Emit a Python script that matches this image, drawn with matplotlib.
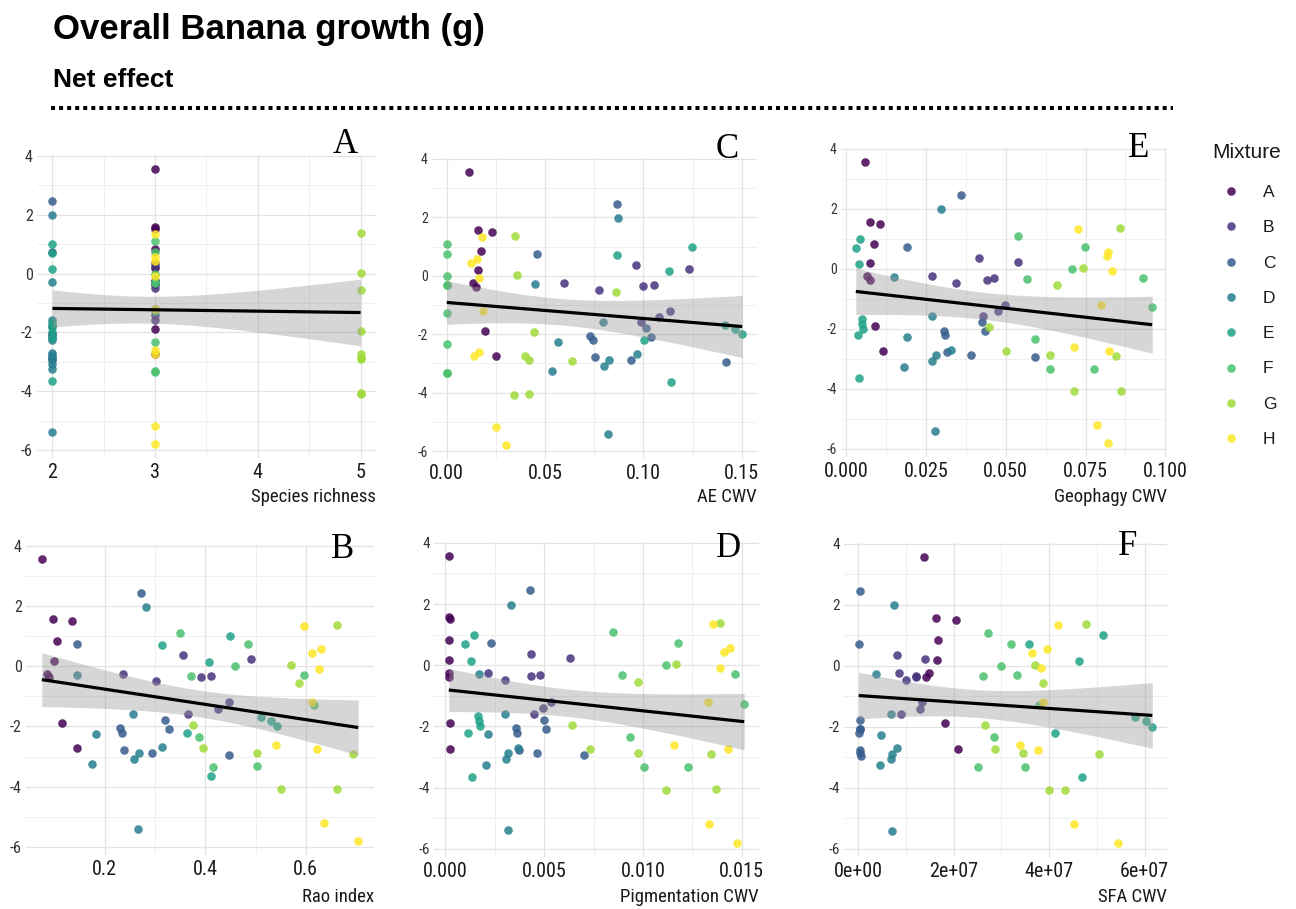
import numpy as np
import matplotlib
matplotlib.use("Agg")
import matplotlib.pyplot as plt
from matplotlib.ticker import FixedLocator, FixedFormatter

plt.rcParams['axes.unicode_minus'] = False

# ---------------- data ----------------
mixtures = ["A", "B", "C", "D", "E", "F", "G", "H"]
mixture_colors = ["#440154", "#46337E", "#365C8D", "#277F8E",
                  "#1FA187", "#4AC16D", "#9FDA3A", "#FDE725"]
richness_by_mixture = {"A": 3, "B": 3, "C": 2, "D": 2, "E": 2, "F": 3, "G": 5, "H": 3}

mixture = (["A"] * 9 + ["B"] * 9 + ["C"] * 9 + ["D"] * 9 + ["E"] * 8
           + ["F"] * 9 + ["G"] * 9 + ["H"] * 9)

growth = [3.56, 1.57, 1.51, 0.84, 0.18, -0.24, -0.37, -1.89, -2.73,          # A
          0.36, -0.25, -0.48, -0.36, -0.32, 0.24, -1.58, -1.41, -1.19,       # B
          2.45, 0.73, -1.78, -2.06, -2.20, -2.08, -2.77, -2.87, -2.94,       # C
          1.98, -0.28, -1.58, -2.26, -3.07, -2.88, -2.69, -3.26, -5.40,      # D
          0.70, 1.00, 0.15, -1.67, -1.82, -1.99, -2.20, -3.65,               # E
          1.09, 0.73, 0.00, -0.33, -0.30, -1.28, -2.34, -3.33, -3.32,        # F
          1.37, 0.03, -0.55, -1.94, -2.73, -2.87, -2.90, -4.08, -4.06,       # G
          1.34, 0.43, 0.56, -0.08, -1.20, -2.60, -2.75, -5.19, -5.80]        # H

rao_index = [0.075, 0.098, 0.136, 0.106, 0.099, 0.085, 0.090, 0.115, 0.144,
             0.355, 0.236, 0.302, 0.391, 0.411, 0.490, 0.366, 0.425, 0.447,
             0.272, 0.145, 0.319, 0.231, 0.234, 0.327, 0.238, 0.295, 0.448,
             0.283, 0.145, 0.257, 0.182, 0.258, 0.268, 0.313, 0.174, 0.266,
             0.313, 0.450, 0.408, 0.510, 0.530, 0.543, 0.363, 0.411,
             0.350, 0.484, 0.460, 0.371, 0.597, 0.616, 0.387, 0.416, 0.502,
             0.662, 0.570, 0.587, 0.375, 0.396, 0.503, 0.693, 0.550, 0.662,
             0.597, 0.612, 0.630, 0.627, 0.612, 0.540, 0.623, 0.637, 0.704]

ae_cwv = [0.0115, 0.0160, 0.0232, 0.0175, 0.0161, 0.0132, 0.0149, 0.0192, 0.0249,
          0.0961, 0.0597, 0.0773, 0.0997, 0.1056, 0.1232, 0.0985, 0.1080, 0.1134,
          0.0863, 0.0459, 0.1015, 0.0730, 0.0742, 0.1039, 0.0756, 0.0936, 0.1422,
          0.0873, 0.0446, 0.0793, 0.0563, 0.0797, 0.0825, 0.0966, 0.0536, 0.0822,
          0.0864, 0.1246, 0.1129, 0.1412, 0.1464, 0.1502, 0.1003, 0.1139,
          0.0, 0.0, 0.0, 0.0, 0.0, 0.0, 0.0, 0.0, 0.0,
          0.0347, 0.0358, 0.0861, 0.0441, 0.0400, 0.0417, 0.0639, 0.0341, 0.0420,
          0.0178, 0.0125, 0.0154, 0.0166, 0.0183, 0.0166, 0.0137, 0.0249, 0.0303]

geophagy_cwv = [0.0058, 0.0073, 0.0107, 0.0086, 0.0074, 0.0066, 0.0074, 0.0089, 0.0116,
                0.0417, 0.0270, 0.0344, 0.0440, 0.0464, 0.0537, 0.0428, 0.0476, 0.0497,
                0.0360, 0.0192, 0.0425, 0.0305, 0.0310, 0.0434, 0.0315, 0.0391, 0.0593,
                0.0296, 0.0151, 0.0269, 0.0190, 0.0270, 0.0280, 0.0327, 0.0182, 0.0278,
                0.0030, 0.0044, 0.0040, 0.0049, 0.0050, 0.0052, 0.0036, 0.0040,
                0.0537, 0.0748, 0.0709, 0.0568, 0.0930, 0.0959, 0.0593, 0.0640, 0.0776,
                0.0858, 0.0743, 0.0661, 0.0449, 0.0500, 0.0640, 0.0847, 0.0714, 0.0862,
                0.0727, 0.0816, 0.0819, 0.0832, 0.0799, 0.0714, 0.0824, 0.0785, 0.0819]

pigmentation_cwv = [0.00020, 0.00020, 0.00025, 0.00020, 0.00020, 0.00018, 0.00018, 0.00022, 0.00025,
                    0.00436, 0.00214, 0.00304, 0.00436, 0.00479, 0.00629, 0.00447, 0.00494, 0.00535,
                    0.00427, 0.00229, 0.00500, 0.00360, 0.00365, 0.00511, 0.00373, 0.00462, 0.00700,
                    0.00335, 0.00173, 0.00304, 0.00215, 0.00306, 0.00318, 0.00368, 0.00207, 0.00315,
                    0.00100, 0.00146, 0.00131, 0.00165, 0.00172, 0.00175, 0.00116, 0.00133,
                    0.00846, 0.01179, 0.01115, 0.00896, 0.01463, 0.01512, 0.00935, 0.01007, 0.01226,
                    0.01391, 0.01165, 0.00977, 0.00639, 0.00732, 0.00974, 0.01342, 0.01117, 0.01371,
                    0.01352, 0.01409, 0.01438, 0.01389, 0.01330, 0.01157, 0.01430, 0.01334, 0.01477]

sfa_cwv = [1.38e7, 1.63e7, 2.04e7, 1.68e7, 1.64e7, 1.49e7, 1.43e7, 1.82e7, 2.09e7,
           0.82e7, 0.86e7, 1.00e7, 1.21e7, 1.22e7, 1.40e7, 0.90e7, 1.29e7, 1.33e7,
           0.03e7, 0.01e7, 0.03e7, 0.03e7, 0.02e7, 0.035e7, 0.03e7, 0.04e7, 0.06e7,
           0.75e7, 0.38e7, 0.68e7, 0.47e7, 0.68e7, 0.70e7, 0.82e7, 0.45e7, 0.70e7,
           3.57e7, 5.12e7, 4.63e7, 5.79e7, 6.02e7, 6.16e7, 4.12e7, 4.68e7,
           2.71e7, 3.21e7, 2.99e7, 2.62e7, 3.33e7, 3.78e7, 2.85e7, 2.50e7, 3.50e7,
           4.77e7, 3.71e7, 3.88e7, 2.65e7, 2.86e7, 3.45e7, 5.04e7, 3.99e7, 4.34e7,
           4.19e7, 3.64e7, 3.96e7, 3.83e7, 3.88e7, 3.38e7, 3.77e7, 4.52e7, 5.44e7]

species_richness = [richness_by_mixture[m] for m in mixture]

y_ticks = [-6, -4, -2, 0, 2, 4]
y_tick_labels = ["-6", "-4", "-2", "0", "2", "4"]
y_minor = [-5, -3, -1, 1, 3]

richness_ticks = [2, 3, 4, 5]
richness_labels = ["2", "3", "4", "5"]
ae_ticks = [0.0, 0.05, 0.10, 0.15]
ae_labels = ["0.00", "0.05", "0.10", "0.15"]
geo_ticks = [0.0, 0.025, 0.05, 0.075, 0.10]
geo_labels = ["0.000", "0.025", "0.050", "0.075", "0.100"]
rao_ticks = [0.2, 0.4, 0.6]
rao_labels = ["0.2", "0.4", "0.6"]
pig_ticks = [0.0, 0.005, 0.010, 0.015]
pig_labels = ["0.000", "0.005", "0.010", "0.015"]
sfa_ticks = [0.0, 2e7, 4e7, 6e7]
sfa_labels = ["0e+00", "2e+07", "4e+07", "6e+07"]

title = "Overall Banana growth (g)"
subtitle = "Net effect"
legend_title = "Mixture"

# ---------------- figure ----------------
W, H = 1296, 909
fig = plt.figure(figsize=(W / 100, H / 100), dpi=100)
fig.patch.set_facecolor("white")

NARROW = ["Roboto Condensed", "Pragati Narrow", "IBM Plex Sans Condensed",
          "Liberation Sans", "DejaVu Sans"]
SANS = ["Liberation Sans", "DejaVu Sans"]
SERIF = ["Liberation Serif", "DejaVu Serif"]


def px_axes(l, r, t, b):
    return fig.add_axes([l / W, 1 - b / H, (r - l) / W, (b - t) / H])


def fx(x):
    return x / W


def fy(y):
    return 1 - y / H


T_Q = 1.9949  # 97.5% t quantile, df = n - 2


def minor_between(ticks):
    return [(a + b) / 2 for a, b in zip(ticks[:-1], ticks[1:])]


panels = [
    # x data, ticks, labels, xlabel, box(l,r,t,b), letter, letter pos, ytick size, xlabel y
    (species_richness, richness_ticks, richness_labels, "Species richness",
     (37, 376, 155, 458), "A", (345, 153), 11.5, 497),
    (ae_cwv, ae_ticks, ae_labels, "AE CWV",
     (432, 757, 158, 459), "C", (727, 158), 10, 497),
    (geophagy_cwv, geo_ticks, geo_labels, "Geophagy CWV",
     (841, 1167, 148, 457), "E", (1139, 157), 10, 497),
    (rao_index, rao_ticks, rao_labels, "Rao index",
     (26, 374, 545, 855), "B", (343, 558), 11.5, 897),
    (pigmentation_cwv, pig_ticks, pig_labels, "Pigmentation CWV",
     (434, 759, 542, 857), "D", (728, 557), 11, 897),
    (sfa_cwv, sfa_ticks, sfa_labels, "SFA CWV",
     (844, 1167, 543, 857), "F", (1128, 555), 11, 897),
]

y_all = np.asarray(growth, dtype=float)
mix_arr = np.asarray(mixture)

for xdata, xt, xl, xlabel, box, letter, lpos, ysize, xlab_y in panels:
    l, r, t, b = box
    ax = px_axes(l, r, t, b)
    x = np.asarray(xdata, dtype=float)
    n = len(x)

    # linear model with 95% confidence band
    slope, intercept = np.polyfit(x, y_all, 1)
    resid = y_all - (slope * x + intercept)
    s = np.sqrt(np.sum(resid ** 2) / (n - 2))
    xm = x.mean()
    sxx = np.sum((x - xm) ** 2)
    xs = np.linspace(x.min(), x.max(), 120)
    fit = slope * xs + intercept
    se = s * np.sqrt(1.0 / n + (xs - xm) ** 2 / sxx)
    lo, hi = fit - T_Q * se, fit + T_Q * se

    for m, c in zip(mixtures, mixture_colors):
        sel = mix_arr == m
        ax.scatter(x[sel], y_all[sel], s=38, color=c, alpha=0.85,
                   linewidths=0, zorder=2)
    ax.fill_between(xs, lo, hi, color="#999999", alpha=0.4, linewidth=0, zorder=3)
    ax.plot(xs, fit, color="black", lw=2.3, zorder=4, solid_capstyle="butt")

    # ggplot-like limits (5% expansion)
    xmin, xmax = x.min(), x.max()
    dx = (xmax - xmin) * 0.05
    ax.set_xlim(xmin - dx, xmax + dx)
    ymin = min(y_all.min(), lo.min())
    ymax = max(y_all.max(), hi.max())
    dy = (ymax - ymin) * 0.05
    ax.set_ylim(ymin - dy, ymax + dy)

    ax.xaxis.set_major_locator(FixedLocator(xt))
    ax.xaxis.set_major_formatter(FixedFormatter(xl))
    ax.xaxis.set_minor_locator(FixedLocator(minor_between(xt)))
    ax.yaxis.set_major_locator(FixedLocator(y_ticks))
    ax.yaxis.set_major_formatter(FixedFormatter(y_tick_labels))
    ax.yaxis.set_minor_locator(FixedLocator(y_minor))

    ax.grid(True, which="major", color="#E3E3E3", lw=0.9)
    ax.grid(True, which="minor", color="#EDEDED", lw=0.6)
    ax.set_axisbelow(True)
    for sp in ax.spines.values():
        sp.set_visible(False)
    ax.tick_params(which="both", length=0)
    ax.tick_params(axis="x", pad=3.5, labelsize=14.5, labelcolor="#1a1a1a")
    ax.tick_params(axis="y", pad=3, labelsize=ysize, labelcolor="#333333")
    for lab in ax.get_xticklabels() + ax.get_yticklabels():
        lab.set_family(NARROW)
    ax.set_facecolor("white")

    fig.text(fx(r), fy(xlab_y), xlabel, ha="right", va="center",
             fontsize=13.5, family=NARROW, color="#1a1a1a")
    fig.text(fx(lpos[0]), fy(lpos[1]), letter, ha="center", va="baseline",
             fontsize=25, family=SERIF, color="black")

# titles
fig.text(fx(53), fy(39), title, ha="left", va="baseline", fontsize=25,
         fontweight="bold", family=SANS, color="black")
fig.text(fx(53), fy(87), subtitle, ha="left", va="baseline", fontsize=19,
         fontweight="bold", family=SANS, color="black")
fig.add_artist(plt.Line2D([fx(51), fx(1173)], [fy(108), fy(108)],
                          color="black", lw=2.9, linestyle=(0, (1, 1)),
                          transform=fig.transFigure))

# legend
fig.text(fx(1212), fy(158), legend_title, ha="left", va="baseline",
         fontsize=15, family=SANS, color="#1a1a1a")
leg_ax = fig.add_axes([0, 0, 1, 1], facecolor="none")
leg_ax.set_xlim(0, W)
leg_ax.set_ylim(H, 0)
leg_ax.axis("off")
for i, (m, c) in enumerate(zip(mixtures, mixture_colors)):
    yy = 191 + i * 35.3
    leg_ax.scatter([1231], [yy], s=38, color=c, alpha=0.85, linewidths=0)
    fig.text(fx(1263), fy(yy + 6), m, ha="left", va="baseline",
             fontsize=12.5, family=SANS, color="#1a1a1a")

fig.savefig("out.png", dpi=100, facecolor="white")
